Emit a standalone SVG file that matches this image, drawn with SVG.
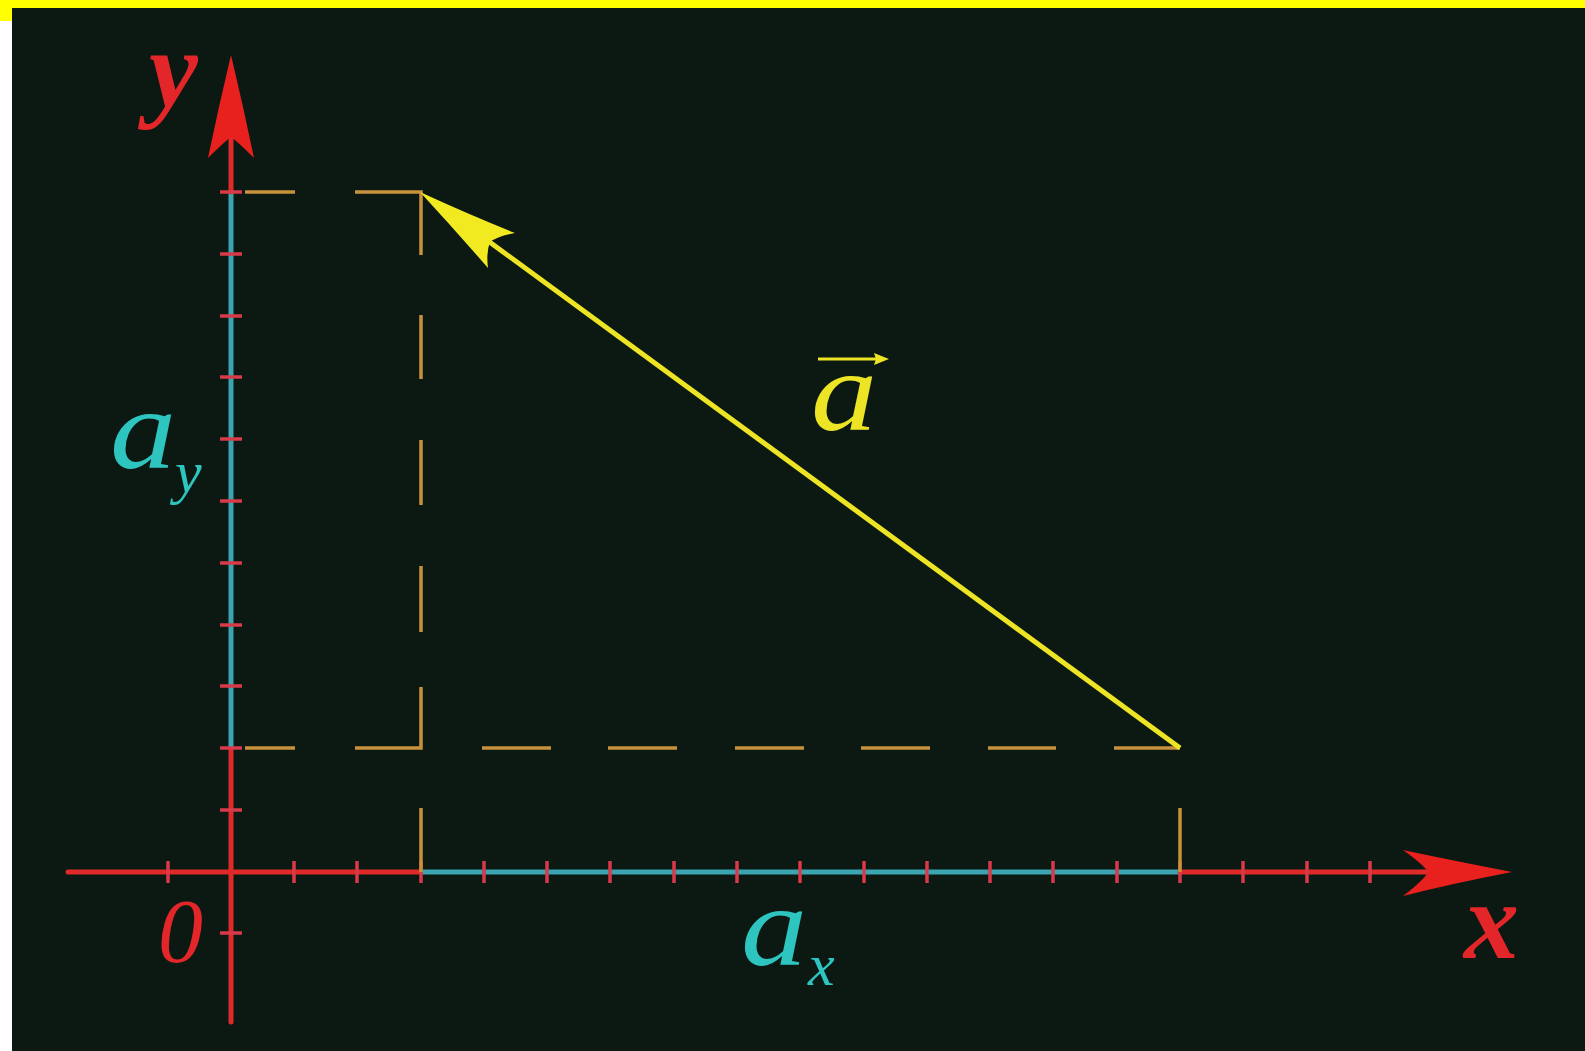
<svg xmlns="http://www.w3.org/2000/svg" width="1585" height="1051" viewBox="0 0 1585 1051">
<style>
.axis{stroke:#e02a2a;stroke-width:5;fill:none;stroke-linecap:round}
.cy{stroke:#3aa4b0;stroke-width:5;fill:none}
.tick{stroke:#d83a4a;stroke-width:3.5;fill:none}
.dash{stroke:#c8913c;stroke-width:3.5;fill:none}
.vec{stroke:#ece424;stroke-width:5;fill:none}
.lbl{font-family:"Liberation Serif","Times New Roman",serif;font-style:italic}
.red{fill:#e2262a}
.cyan{fill:#2ec4c0}
.yel{fill:#ece424}
</style>
<rect x="0" y="0" width="1585" height="1051" fill="#ffffff"/>
<rect x="12" y="8" width="1573" height="1043" fill="#0b1912"/>
<rect x="0" y="0" width="1585" height="8" fill="#ffff00"/>
<rect x="0" y="0" width="12" height="21" fill="#ffff00"/>

<g id="connectors">
  <g id="x-axis">
    <line class="axis" x1="68" y1="872" x2="421" y2="872"/>
    <line class="cy" x1="421" y1="872" x2="1180" y2="872"/>
    <line class="axis" x1="1180" y1="872" x2="1430" y2="872"/>
    <path d="M1512,872 Q1450,860 1403,850 Q1424,865 1428,872 Q1424,880 1403,896 Q1450,884 1512,872 Z" fill="#e8201e"/>
  </g>
  <g id="y-axis">
    <line class="axis" x1="231" y1="1022" x2="231" y2="748"/>
    <line class="cy" x1="231" y1="748" x2="231" y2="192"/>
    <line class="axis" x1="231" y1="192" x2="231" y2="130"/>
    <path d="M231,55 Q243,105 254,158 Q238,142 231,137 Q224,142 208,158 Q219,105 231,55 Z" fill="#e8201e"/>
  </g>
  <g id="ticks">
    <line class="tick" x1="168" y1="861" x2="168" y2="883"/>
    <line class="tick" x1="294" y1="861" x2="294" y2="883"/>
    <line class="tick" x1="357" y1="861" x2="357" y2="883"/>
    <line class="tick" x1="421" y1="861" x2="421" y2="883"/>
    <line class="tick" x1="484" y1="861" x2="484" y2="883"/>
    <line class="tick" x1="547" y1="861" x2="547" y2="883"/>
    <line class="tick" x1="610" y1="861" x2="610" y2="883"/>
    <line class="tick" x1="674" y1="861" x2="674" y2="883"/>
    <line class="tick" x1="737" y1="861" x2="737" y2="883"/>
    <line class="tick" x1="800" y1="861" x2="800" y2="883"/>
    <line class="tick" x1="864" y1="861" x2="864" y2="883"/>
    <line class="tick" x1="927" y1="861" x2="927" y2="883"/>
    <line class="tick" x1="990" y1="861" x2="990" y2="883"/>
    <line class="tick" x1="1053" y1="861" x2="1053" y2="883"/>
    <line class="tick" x1="1117" y1="861" x2="1117" y2="883"/>
    <line class="tick" x1="1180" y1="861" x2="1180" y2="883"/>
    <line class="tick" x1="1243" y1="861" x2="1243" y2="883"/>
    <line class="tick" x1="1307" y1="861" x2="1307" y2="883"/>
    <line class="tick" x1="1370" y1="861" x2="1370" y2="883"/>

    <line class="tick" x1="220" y1="933" x2="242" y2="933"/>
    <line class="tick" x1="220" y1="810" x2="242" y2="810"/>
    <line class="tick" x1="220" y1="748" x2="242" y2="748"/>
    <line class="tick" x1="220" y1="686" x2="242" y2="686"/>
    <line class="tick" x1="220" y1="625" x2="242" y2="625"/>
    <line class="tick" x1="220" y1="563" x2="242" y2="563"/>
    <line class="tick" x1="220" y1="501" x2="242" y2="501"/>
    <line class="tick" x1="220" y1="439" x2="242" y2="439"/>
    <line class="tick" x1="220" y1="377" x2="242" y2="377"/>
    <line class="tick" x1="220" y1="316" x2="242" y2="316"/>
    <line class="tick" x1="220" y1="254" x2="242" y2="254"/>
    <line class="tick" x1="220" y1="192" x2="242" y2="192"/>
  </g>
  <g id="projections">
    <line class="dash" x1="245" y1="192" x2="295" y2="192"/>
    <polyline class="dash" points="355,192 421,192 421,255"/>
    <line class="dash" x1="421" y1="315" x2="421" y2="379"/>
    <line class="dash" x1="421" y1="440" x2="421" y2="505"/>
    <line class="dash" x1="421" y1="566" x2="421" y2="632"/>
    <polyline class="dash" points="421,687 421,748 355,748"/>
    <line class="dash" x1="245" y1="748" x2="295" y2="748"/>
    <line class="dash" x1="421" y1="808" x2="421" y2="872"/>
    <line class="dash" x1="482" y1="748" x2="551" y2="748"/>
    <line class="dash" x1="608" y1="748" x2="677" y2="748"/>
    <line class="dash" x1="735" y1="748" x2="804" y2="748"/>
    <line class="dash" x1="861" y1="748" x2="930" y2="748"/>
    <line class="dash" x1="988" y1="748" x2="1056" y2="748"/>
    <line class="dash" x1="1114" y1="748" x2="1180" y2="748"/>
    <line class="dash" x1="1180" y1="808" x2="1180" y2="872"/>
  </g>
  <g id="vector-a">
    <line class="vec" x1="1180" y1="748" x2="480" y2="235"/>
    <path d="M420,192 Q470,215 515,233 Q498,236 490,242 Q486,252 488,268 Q455,230 420,192 Z" fill="#f2ea20"/>
  </g>
</g>

<g id="label-y"><text class="lbl red" x="149" y="107" font-size="110" font-weight="bold">y</text></g>
<g id="label-0"><text class="lbl red" x="158" y="962" font-size="90">0</text></g>
<g id="label-x"><text class="lbl red" x="1464" y="958" font-size="110" font-weight="bold">x</text></g>
<g id="label-a">
  <text class="lbl yel" transform="translate(811,430) scale(1.15,1)" font-size="115">a</text>
  <line x1="818" y1="359" x2="878" y2="359" stroke="#ece424" stroke-width="3"/>
  <path d="M889,359 L874,353 L876,359 L874,365 Z" fill="#ece424"/>
</g>
<g id="label-ay">
  <text class="lbl cyan" transform="translate(110,468) scale(1.15,1)" font-size="115">a</text>
  <text class="lbl cyan" x="175" y="492" font-size="60">y</text>
</g>
<g id="label-ax">
  <text class="lbl cyan" transform="translate(741,965) scale(1.15,1)" font-size="115">a</text>
  <text class="lbl cyan" x="808" y="985" font-size="60">x</text>
</g>
</svg>
